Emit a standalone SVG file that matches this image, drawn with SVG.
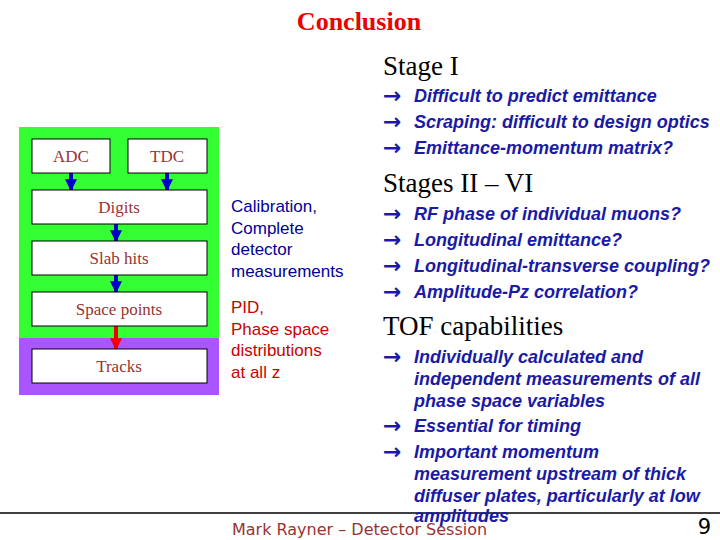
<svg xmlns="http://www.w3.org/2000/svg" width="720" height="540" viewBox="0 0 720 540">
<defs>
<style>
.box{fill:#fff;stroke:#000;stroke-width:1}
.lbl{font-family:"Liberation Serif","Times New Roman",serif;font-size:17px;fill:#993333;text-anchor:middle}
.hd{font-family:"Liberation Serif","Times New Roman",serif;font-size:27px;fill:#000}
.b{font-family:"Liberation Sans",Arial,sans-serif;font-size:18px;font-weight:bold;font-style:italic;fill:#1a1aa6}
.ar{font-family:"DejaVu Sans",sans-serif;font-size:22px;font-weight:bold;fill:#1a1aa6}
.mid{font-family:"Liberation Sans",Arial,sans-serif;font-size:17px}
</style>
<marker id="ab" viewBox="0 0 10 10" refX="9" refY="5" markerWidth="3" markerHeight="3" orient="auto"><path d="M0,0L10,5L0,10z" fill="#0000cc"/></marker>
<marker id="ar" viewBox="0 0 10 10" refX="9" refY="5" markerWidth="3" markerHeight="3" orient="auto"><path d="M0,0L10,5L0,10z" fill="#ee0000"/></marker>
</defs>
<rect width="720" height="540" fill="#fff"/>
<text x="359" y="30" text-anchor="middle" font-family="Liberation Serif,serif" font-size="26" font-weight="bold" fill="#ee0000">Conclusion</text>

<rect x="19" y="127" width="200" height="211" fill="#33ff33"/>
<rect x="19" y="338" width="200" height="57" fill="#aa55ff"/>

<g id="connectors" stroke-width="4">
<line x1="71" y1="173" x2="71" y2="190" stroke="#0000cc" marker-end="url(#ab)"/>
<line x1="167" y1="173" x2="167" y2="190" stroke="#0000cc" marker-end="url(#ab)"/>
<line x1="116" y1="224" x2="116" y2="241" stroke="#0000cc" marker-end="url(#ab)"/>
<line x1="116" y1="275" x2="116" y2="292" stroke="#0000cc" marker-end="url(#ab)"/>
<line x1="116" y1="326" x2="116" y2="349" stroke="#ee0000" marker-end="url(#ar)"/>
</g>

<g id="adc"><rect class="box" x="32" y="139" width="78" height="34"/><text class="lbl" x="71" y="162">ADC</text></g>
<g id="tdc"><rect class="box" x="128" y="139" width="79" height="34"/><text class="lbl" x="167" y="162">TDC</text></g>
<g id="digits"><rect class="box" x="32" y="190" width="175" height="34"/><text class="lbl" x="119" y="213">Digits</text></g>
<g id="slab"><rect class="box" x="32" y="241" width="175" height="34"/><text class="lbl" x="119" y="264">Slab hits</text></g>
<g id="space"><rect class="box" x="32" y="292" width="175" height="34"/><text class="lbl" x="119" y="315">Space points</text></g>
<g id="tracks"><rect class="box" x="32" y="349" width="175" height="34"/><text class="lbl" x="119" y="372">Tracks</text></g>

<g class="mid" fill="#000099">
<text x="231" y="212">Calibration,</text>
<text x="231" y="234">Complete</text>
<text x="231" y="255">detector</text>
<text x="231" y="277">measurements</text>
</g>
<g class="mid" fill="#cc0000">
<text x="231" y="313">PID,</text>
<text x="231" y="335">Phase space</text>
<text x="231" y="356">distributions</text>
<text x="231" y="378">at all z</text>
</g>

<text class="hd" x="383" y="75">Stage I</text>
<text class="ar" x="383" y="103">→</text><text class="b" x="414" y="102">Difficult to predict emittance</text>
<text class="ar" x="383" y="129">→</text><text class="b" x="414" y="128">Scraping: difficult to design optics</text>
<text class="ar" x="383" y="155">→</text><text class="b" x="414" y="154">Emittance-momentum matrix?</text>

<text class="hd" x="383" y="192">Stages II – VI</text>
<text class="ar" x="383" y="221">→</text><text class="b" x="414" y="220">RF phase of individual muons?</text>
<text class="ar" x="383" y="247">→</text><text class="b" x="414" y="246">Longitudinal emittance?</text>
<text class="ar" x="383" y="273">→</text><text class="b" x="414" y="272">Longitudinal-transverse coupling?</text>
<text class="ar" x="383" y="299">→</text><text class="b" x="414" y="298">Amplitude-Pz correlation?</text>

<text class="hd" x="383" y="335">TOF capabilities</text>
<text class="ar" x="383" y="364">→</text><text class="b" x="414" y="363">Individually calculated and</text>
<text class="b" x="414" y="385">independent measurements of all</text>
<text class="b" x="414" y="407">phase space variables</text>
<text class="ar" x="383" y="433">→</text><text class="b" x="414" y="432">Essential for timing</text>
<text class="ar" x="383" y="459">→</text><text class="b" x="414" y="458">Important momentum</text>
<text class="b" x="414" y="480">measurement upstream of thick</text>
<text class="b" x="414" y="502">diffuser plates, particularly at low</text>

<line x1="0" y1="513" x2="720" y2="513" stroke="#000" stroke-width="1.5"/>
<text x="232" y="535" font-family="DejaVu Sans,sans-serif" font-size="16" fill="#993333">Mark Rayner – Detector Session</text>
<text class="b" x="414" y="522">amplitudes</text>
<text x="711" y="534" text-anchor="end" font-family="DejaVu Sans,sans-serif" font-size="21" fill="#000">9</text>
</svg>
